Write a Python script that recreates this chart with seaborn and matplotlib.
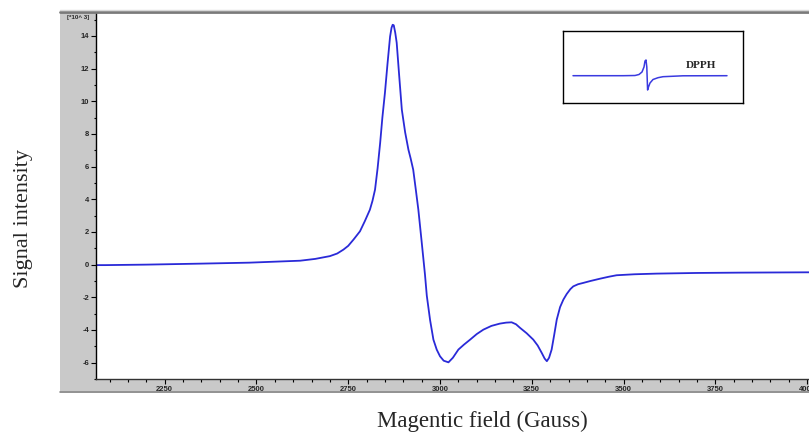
import matplotlib
matplotlib.use("Agg")
import matplotlib.pyplot as plt
import seaborn as sns
import pandas as pd
from matplotlib.patches import Rectangle
from matplotlib.lines import Line2D
from matplotlib.ticker import MultipleLocator

# ---- data (field in Gauss, signal in x10^3) ----
field = [2063, 2088, 2200, 2346, 2480, 2619, 2660, 2700, 2720, 2737, 2750, 2765,
         2782, 2795, 2809, 2816, 2823, 2830, 2837, 2843, 2850, 2857, 2864, 2868,
         2871, 2874, 2878, 2882, 2889, 2896, 2905, 2914, 2920, 2927, 2934, 2941,
         2950, 2959, 2964, 2973, 2982, 2991, 3000, 3010, 3023, 3035, 3050, 3065,
         3082, 3100, 3118, 3140, 3163, 3180, 3195, 3207, 3218, 3236, 3254, 3266,
         3277, 3285, 3291, 3297, 3304, 3311, 3318, 3327, 3336, 3345, 3355, 3363,
         3376, 3390, 3410, 3436, 3460, 3481, 3530, 3590, 3700, 3817, 4005]
signal = [-0.03, -0.03, 0.0, 0.06, 0.12, 0.24, 0.35, 0.52, 0.68, 0.92, 1.15, 1.55,
          2.04, 2.65, 3.36, 3.9, 4.59, 5.9, 7.46, 9.0, 10.52, 12.3, 13.96, 14.5,
          14.68, 14.65, 14.2, 13.58, 11.5, 9.48, 8.1, 7.03, 6.5, 5.81, 4.6, 3.36,
          1.4, -0.6, -1.9, -3.4, -4.59, -5.2, -5.61, -5.88, -5.98, -5.7, -5.2, -4.9,
          -4.59, -4.25, -3.98, -3.75, -3.61, -3.55, -3.53, -3.65, -3.87, -4.2, -4.59, -4.95,
          -5.4, -5.75, -5.91, -5.7, -5.2, -4.3, -3.36, -2.6, -2.14, -1.8, -1.5, -1.33,
          -1.2, -1.12, -1.0, -0.86, -0.74, -0.65, -0.59, -0.55, -0.51, -0.49, -0.47]

# inset (DPPH reference) in arbitrary units
inset_x = [10, 60, 72, 76, 79, 81, 82, 83, 83.8, 84.6, 85.5, 87, 90, 95, 100, 120, 164]
inset_y = [27.3, 27.3, 27.5, 28.5, 31, 36, 42, 43, 36, 13, 16, 20, 23.5, 25.3, 26.3, 27.2, 27.3]

x_ticks = [2250, 2500, 2750, 3000, 3250, 3500, 3750, 4000]
y_ticks = [-6, -4, -2, 0, 2, 4, 6, 8, 10, 12, 14]

df = pd.DataFrame({"field": field, "signal": signal})
df_in = pd.DataFrame({"x": inset_x, "y": inset_y})

sns.set_style("white")
plt.rcParams["font.family"] = ["Liberation Serif", "DejaVu Serif"]

W, H = 809, 433
fig = plt.figure(figsize=(W / 100, H / 100), dpi=100)

def fx(px):
    return px / W

def fy(py):
    return 1 - py / H

# gray frame (software window look)
gray = "#c9c9c9"
fig.patches.append(Rectangle((fx(60), fy(393)), fx(96 - 60), (393 - 12) / H,
                             transform=fig.transFigure, facecolor=gray, edgecolor="none", zorder=-2))
fig.patches.append(Rectangle((fx(60), fy(393)), fx(W - 60), (393 - 379) / H,
                             transform=fig.transFigure, facecolor=gray, edgecolor="none", zorder=-2))
fig.lines.append(Line2D([fx(60), 1], [fy(12), fy(12)], transform=fig.transFigure,
                        color="#7a7a7a", lw=2.0, zorder=5))
fig.lines.append(Line2D([fx(60), 1], [fy(10), fy(10)], transform=fig.transFigure,
                        color="#d8d8d8", lw=1.0, zorder=5))
fig.lines.append(Line2D([fx(60), 1], [fy(392), fy(392)], transform=fig.transFigure,
                        color="#8a8a8a", lw=1.2, zorder=5))

ax = fig.add_axes([fx(96), fy(379), fx(W - 96), (379 - 13) / H])
ax.set_zorder(2)
ax.patch.set_alpha(1.0)
sns.lineplot(data=df, x="field", y="signal", ax=ax, color="#2a2ad8", lw=1.3)
ax.set_xlim(2063, 4005)
ax.set_ylim(-7.0, 15.4)
ax.set_xticks(x_ticks)
ax.set_yticks(y_ticks)
ax.xaxis.set_minor_locator(MultipleLocator(50))
ax.yaxis.set_minor_locator(MultipleLocator(1))
tick_font = dict(family=["Liberation Sans", "DejaVu Sans"], size=5.5, weight="bold")
ax.set_xticklabels([str(v) for v in x_ticks], **tick_font)
ax.set_yticklabels([str(v) for v in y_ticks], **tick_font)
ax.tick_params(axis="both", which="major", direction="out", length=3.5, width=0.8,
               color="black", pad=1.5, bottom=True, left=True)
ax.tick_params(axis="both", which="minor", direction="out", length=1.8, width=0.8,
               color="black", bottom=True, left=True)
ax.spines["right"].set_visible(False)
ax.spines["top"].set_visible(False)
ax.spines["left"].set_color("black")
ax.spines["left"].set_linewidth(1.0)
ax.spines["bottom"].set_color("#333333")
ax.spines["bottom"].set_linewidth(1.0)

ax.set_xlabel("Magentic field (Gauss)", fontsize=16.5)
ax.set_ylabel("Signal intensity", fontsize=16)
ax.xaxis.set_label_coords((482 - 96) / (W - 96), (379 - 411) / 366)
ax.yaxis.set_label_coords((33 - 96) / (W - 96), (379 - 218) / 366)

fig.text(fx(78), fy(17), "[*10^ 3]", ha="center", va="center",
         fontsize=4.5, fontweight="bold", family=["Liberation Sans", "DejaVu Sans"])

# inset with DPPH reference line
axi = fig.add_axes([fx(563), fy(103), fx(743 - 563), (103 - 31) / H])
axi.set_zorder(3)
sns.lineplot(data=df_in, x="x", y="y", ax=axi, color="#3a3ae0", lw=1.1)
axi.set_xlim(0, 180)
axi.set_ylim(0, 72)
axi.set_xticks([])
axi.set_yticks([])
axi.set_xlabel("")
axi.set_ylabel("")
for s in axi.spines.values():
    s.set_visible(True)
    s.set_color("black")
    s.set_linewidth(1.0)
axi.text(138, 37, "DPPH", ha="center", va="center", fontsize=8, fontweight="bold")

fig.savefig("out.png", dpi=100)
